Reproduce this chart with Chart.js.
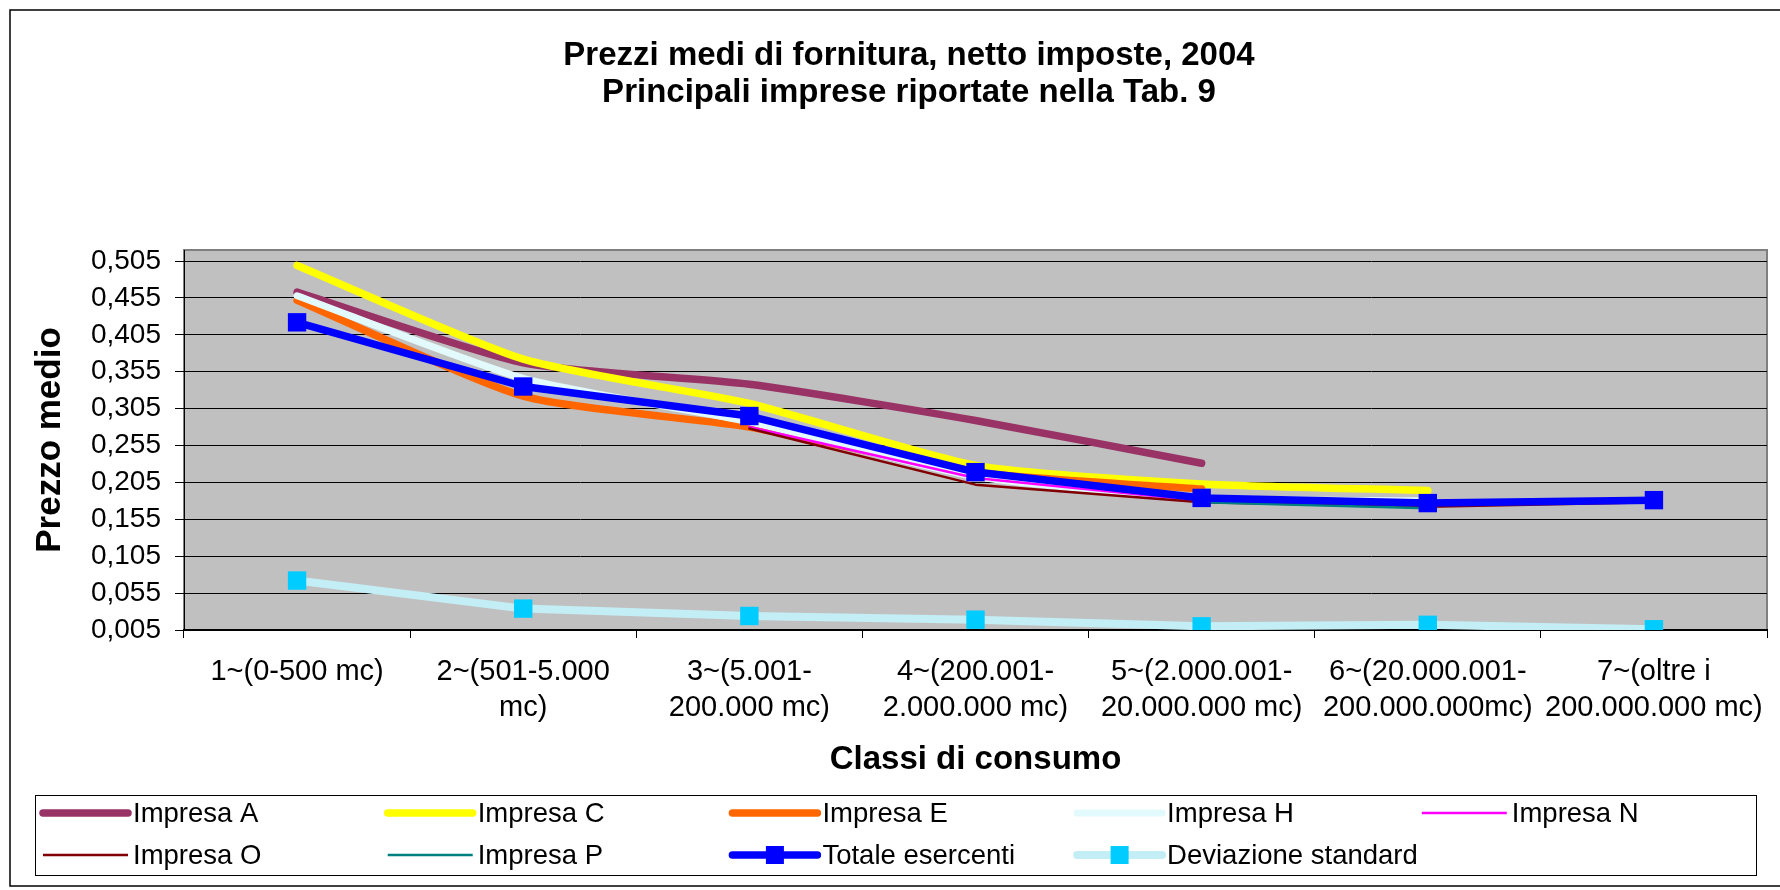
<!DOCTYPE html>
<html>
<head>
<meta charset="utf-8">
<title>Prezzi medi di fornitura 2004</title>
<script src="https://cdn.jsdelivr.net/npm/chart.js@4.4.1/dist/chart.umd.min.js"></script>
<style>
  html, body { margin: 0; padding: 0; background: #fff; }
  #wrap { width: 1780px; height: 890px; }
</style>
</head>
<body>
<div id="wrap"><canvas id="myChart" width="1780" height="890"></canvas></div>
<script>
// classi di consumo (asse X)
var classi = [
  '1~(0-500 mc)',
  ['2~(501-5.000', 'mc)'],
  ['3~(5.001-', '200.000 mc)'],
  ['4~(200.001-', '2.000.000 mc)'],
  ['5~(2.000.001-', '20.000.000 mc)'],
  ['6~(20.000.001-', '200.000.000mc)'],
  ['7~(oltre i', '200.000.000 mc)']
];

// prezzi medi
var impresaA = [0.463, 0.367, 0.338, 0.289, 0.231, null, null];
var impresaC = [0.499, 0.372, 0.312, 0.228, 0.203, 0.194, null];
var impresaE = [0.452, 0.322, 0.280, 0.219, 0.196, null, null];
var impresaH = [0.458, 0.346, 0.287, 0.213, 0.184, 0.180, null];
var impresaN = [null, null, 0.280, 0.211, 0.180, 0.172, null];
var impresaO = [null, null, 0.278, 0.202, 0.178, 0.172, 0.178];
var impresaP = [null, null, null, null, 0.178, 0.170, null];
var totale   = [0.422, 0.335, 0.295, 0.219, 0.184, 0.177, 0.181];
var devStd   = [0.072, 0.034, 0.024, 0.019, 0.010, 0.012, 0.006];

// etichette asse Y
var yTicks = [0.005, 0.055, 0.105, 0.155, 0.205, 0.255, 0.305, 0.355, 0.405, 0.455, 0.505];

var FONT = "'Liberation Sans', Arial, Helvetica, sans-serif";
Chart.defaults.font.family = FONT;
Chart.defaults.color = '#000';

function serie(label, data, colore, spessore, extra) {
  var ds = {
    label: label,
    data: data,
    borderColor: colore,
    backgroundColor: colore,
    borderWidth: spessore,
    pointRadius: 0,
    fill: false,
    tension: 0,
    spanGaps: false,
    borderCapStyle: 'round',
    borderJoinStyle: 'round'
  };
  for (var k in extra) ds[k] = extra[k];
  return ds;
}

var datasets = [
  serie('Impresa A', impresaA, '#993366', 7.5, { tension: 0.2 }),
  serie('Impresa C', impresaC, '#FFFF00', 7.5, { tension: 0.2 }),
  serie('Impresa E', impresaE, '#FF6600', 7.5, { tension: 0.2 }),
  serie('Impresa H', impresaH, '#E2FAFC', 7, { tension: 0.2 }),
  serie('Impresa N', impresaN, '#FF00FF', 2.5),
  serie('Impresa O', impresaO, '#800000', 2.5),
  serie('Impresa P', impresaP, '#008080', 2.5),
  serie('Totale esercenti', totale, '#0000FF', 7.5, { pointStyle: 'rect', pointRadius: 13, pointBackgroundColor: '#0000FF', pointBorderWidth: 0 }),
  serie('Deviazione standard', devStd, '#C4EEF6', 8, { pointStyle: 'rect', pointRadius: 13, pointBackgroundColor: '#00CCFF', pointBorderColor: '#00CCFF', pointBorderWidth: 0 })
];
// come in Excel: l'ultima serie sta sopra
datasets.forEach(function (d, i) { d.order = datasets.length - i; });

// sfondo, cornici e legenda disegnata a mano
var cornice = {
  id: 'cornice',
  beforeDraw: function (chart) {
    var c = chart.ctx, a = chart.chartArea;
    c.save();
    c.fillStyle = '#fff';
    c.fillRect(0, 0, chart.width, chart.height);
    c.strokeStyle = '#000';
    c.lineWidth = 1.5;
    c.strokeRect(10, 10, 1800, 876);
    c.fillStyle = '#C0C0C0';
    c.fillRect(a.left, a.top, a.right - a.left, a.bottom - a.top);
    c.strokeStyle = '#808080';
    c.lineWidth = 2;
    c.strokeRect(a.left, a.top, a.right - a.left, a.bottom - a.top);
    c.restore();
  },
  afterDraw: function (chart) {
    var c = chart.ctx;
    c.save();
    c.strokeStyle = '#000';
    c.lineWidth = 1;
    c.strokeRect(35.5, 795.5, 1721, 80);
    var righe = [813, 855];
    chart.data.datasets.forEach(function (d, i) {
      var x = 41 + (i % 5) * 344.7;
      var y = righe[Math.floor(i / 5)];
      c.strokeStyle = d.borderColor;
      c.lineWidth = d.borderWidth;
      c.lineCap = d.borderWidth > 4 ? 'round' : 'butt';
      c.beginPath();
      c.moveTo(x + 2, y);
      c.lineTo(x + 87, y);
      c.stroke();
      if (d.pointStyle === 'rect') {
        c.fillStyle = d.pointBackgroundColor;
        c.fillRect(x + 44.5 - 9, y - 9, 18, 18);
      }
      c.fillStyle = '#000';
      c.font = '27.5px ' + FONT;
      c.textBaseline = 'middle';
      c.textAlign = 'left';
      c.fillText(d.label, x + 92, y + 1);
    });
    c.restore();
  }
};

var ctx = document.getElementById('myChart').getContext('2d');
var chart = new Chart(ctx, {
  type: 'line',
  data: { labels: classi, datasets: datasets },
  plugins: [cornice],
  options: {
    responsive: false,
    animation: false,
    events: [],
    layout: { padding: { left: 40, right: 2, top: 0, bottom: 110.4 } },
    plugins: {
      legend: { display: false },
      tooltip: { enabled: false },
      title: {
        display: true,
        text: ['Prezzi medi di fornitura, netto imposte, 2004', 'Principali imprese riportate nella Tab. 9'],
        color: '#000',
        font: { size: 33, weight: 'bold', lineHeight: 1.1 },
        padding: { top: 38, bottom: 139.4 }
      }
    },
    scales: {
      x: {
        offset: true,
        grid: { offset: true, drawOnChartArea: false, drawTicks: true, tickLength: 8, tickColor: '#000', lineWidth: 1 },
        border: { color: '#000', width: 2 },
        ticks: { autoSkip: false, maxRotation: 0, minRotation: 0, padding: 16, color: '#000', font: { size: 29, lineHeight: 1.23 } },
        title: { display: true, text: 'Classi di consumo', color: '#000', font: { size: 33, weight: 'bold' }, padding: 0 },
        afterFit: function (s) { s.height = 149.6; s.paddingLeft = 0; s.paddingRight = 0; }
      },
      y: {
        min: 0.005,
        max: 0.52,
        afterBuildTicks: function (s) { s.ticks = yTicks.map(function (v) { return { value: v }; }); },
        afterFit: function (s) { s.width = 144; s.paddingTop = 0; s.paddingBottom = 0; },
        grid: { color: '#000', lineWidth: 1, tickLength: 9, tickColor: '#000' },
        border: { color: '#000', width: 1 },
        ticks: {
          padding: 14,
          color: '#000',
          font: { size: 28 },
          callback: function (v) { return Number(v).toFixed(3).replace('.', ','); }
        },
        title: { display: true, text: 'Prezzo medio', color: '#000', font: { size: 35, weight: 'bold', lineHeight: 0.6 }, padding: 0 }
      }
    }
  }
});
</script>
</body>
</html>
